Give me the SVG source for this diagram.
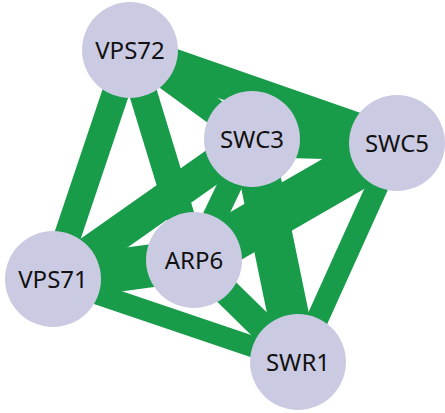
<svg xmlns="http://www.w3.org/2000/svg" width="445" height="413" viewBox="0 0 445 413">
<style>
.e{stroke:#199c4a;fill:none}
.n{fill:#cbcae3}
.t{font-family:"Noto Sans","Open Sans",sans-serif;font-size:24px;fill:#111;text-anchor:middle}
</style>
<rect width="445" height="413" fill="#fff"/>
<g id="edges">
<line class="e" x1="130" y1="50" x2="397" y2="143" stroke-width="33"/>
<line class="e" x1="130" y1="50" x2="252" y2="139" stroke-width="26"/>
<line class="e" x1="130" y1="50" x2="53" y2="279" stroke-width="27"/>
<line class="e" x1="130" y1="50" x2="194" y2="260" stroke-width="28"/>
<line class="e" x1="252" y1="139" x2="397" y2="143" stroke-width="36"/>
<line class="e" x1="252" y1="139" x2="53" y2="279" stroke-width="34"/>
<line class="e" x1="252" y1="139" x2="194" y2="260" stroke-width="24"/>
<line class="e" x1="252" y1="139" x2="298" y2="362" stroke-width="41"/>
<line class="e" x1="397" y1="143" x2="194" y2="260" stroke-width="47"/>
<line class="e" x1="397" y1="143" x2="298" y2="362" stroke-width="22"/>
<line class="e" x1="53" y1="279" x2="194" y2="260" stroke-width="43"/>
<line class="e" x1="53" y1="279" x2="298" y2="362" stroke-width="21"/>
<line class="e" x1="194" y1="260" x2="298" y2="362" stroke-width="27"/>
</g>
<g id="VPS72"><circle class="n" cx="130" cy="50" r="48"/><text class="t" x="130" y="58.5">VPS72</text></g>
<g id="SWC3"><circle class="n" cx="252" cy="139" r="48"/><text class="t" x="252" y="147.5">SWC3</text></g>
<g id="SWC5"><circle class="n" cx="397" cy="143" r="48"/><text class="t" x="397" y="151.5">SWC5</text></g>
<g id="VPS71"><circle class="n" cx="53" cy="279" r="48"/><text class="t" x="53" y="287.5">VPS71</text></g>
<g id="ARP6"><circle class="n" cx="194" cy="260" r="48"/><text class="t" x="194" y="268.5">ARP6</text></g>
<g id="SWR1"><circle class="n" cx="298" cy="362" r="48"/><text class="t" x="298" y="370.5">SWR1</text></g>
</svg>
